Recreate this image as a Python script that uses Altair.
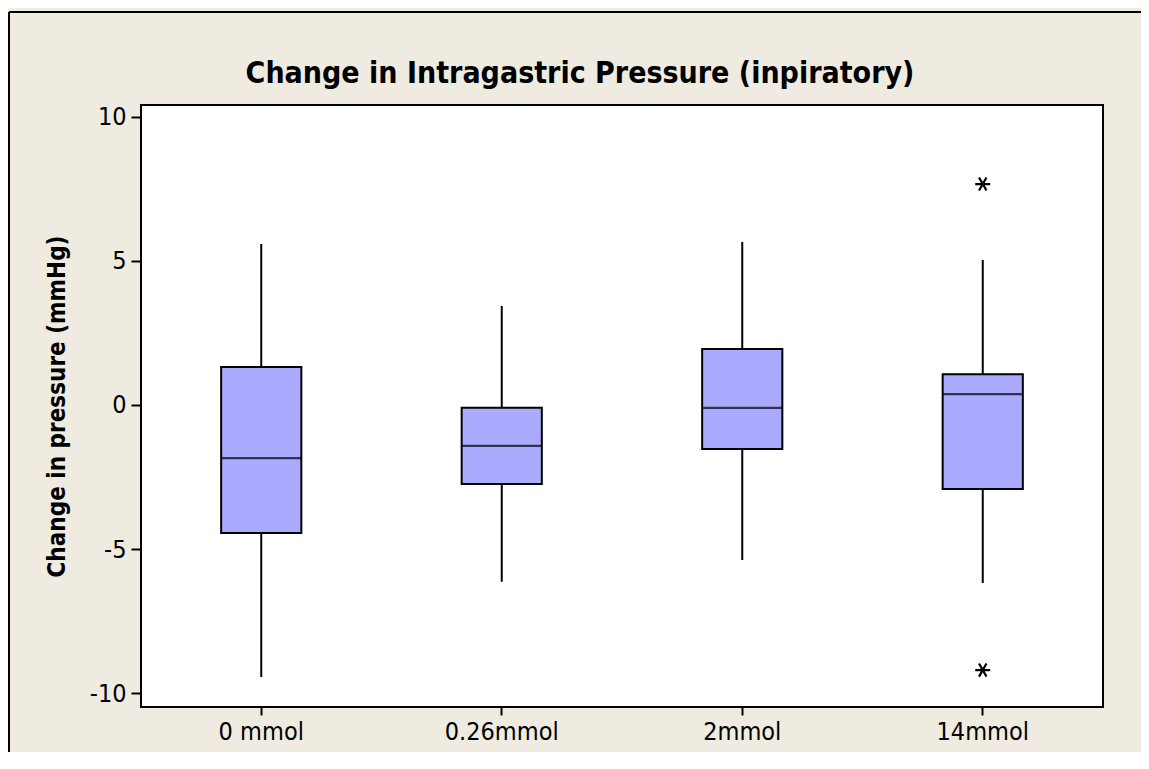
import altair as alt
import pandas as pd

# ---- data ----
groups = ["0 mmol", "0.26mmol", "2mmol", "14mmol"]
whisk_lo = [-9.43, -6.13, -5.37, -6.17]
q1 = [-4.44, -2.74, -1.53, -2.91]
median = [-1.84, -1.42, -0.10, 0.38]
q3 = [1.32, -0.10, 1.94, 1.07]
whisk_hi = [5.58, 3.43, 5.65, 5.03]
outlier_group = ["14mmol", "14mmol"]
outlier_val = [7.66, -9.19]
y_ticks = [-10, -5, 0, 5, 10]

stats = pd.DataFrame({"group": groups, "lo": whisk_lo, "q1": q1,
                      "med": median, "q3": q3, "hi": whisk_hi})
outl = pd.DataFrame({"group": outlier_group, "val": outlier_val})
one = pd.DataFrame({"k": [0]})

FONT = "DejaVu Sans Condensed, DejaVu Sans"
BEIGE = "#EFEBE1"
BOX = "#AAAAFF"

xscale = alt.Scale(domain=groups, paddingInner=2 / 3, paddingOuter=1 / 3)
yscale = alt.Scale(domain=[-10.47, 10.40], nice=False, zero=False)

x = alt.X("group:N", scale=xscale, sort=groups,
          axis=alt.Axis(title=None, labelAngle=0, tickSize=8, labelPadding=4))
y_axis = alt.Axis(values=y_ticks, title="Change in pressure (mmHg)",
                  labelExpr="'' + datum.value",
                  tickSize=10, labelPadding=5,
                  titleX=-84, titleY=301, titleAngle=270,
                  titleAlign="center", titleBaseline="middle")

whiskers = alt.Chart(stats).mark_rule(color="black", strokeWidth=2).encode(
    x=x,
    y=alt.Y("lo:Q", scale=yscale, axis=y_axis),
    y2="hi:Q",
)
boxes = alt.Chart(stats).mark_bar(fill=BOX, stroke="black", strokeWidth=2).encode(
    x=x, y=alt.Y("q1:Q", scale=yscale), y2="q3:Q"
)
medians = alt.Chart(stats).mark_tick(color="black", size=80, thickness=2.2).encode(
    x=x, y=alt.Y("med:Q", scale=yscale)
)
star = "M-1,0L1,0M-0.5,-0.87L0.5,0.87M0.5,-0.87L-0.5,0.87"
outliers = alt.Chart(outl).mark_point(shape=star, size=225, filled=False,
                                      stroke="black", strokeWidth=2.2, opacity=1).encode(
    x=x, y=alt.Y("val:Q", scale=yscale)
)

# outer figure frame (left and top edges)
frame_left = alt.Chart(one).mark_rule(color="black", strokeWidth=2).encode(
    x=alt.value(-132), y=alt.value(-93), y2=alt.value(647)
)
frame_top = alt.Chart(one).mark_rule(color="black", strokeWidth=2).encode(
    y=alt.value(-93), x=alt.value(-132), x2=alt.value(1000)
)

chart = alt.layer(frame_left, frame_top, whiskers, boxes, medians, outliers).properties(
    width=962, height=602,
    autosize=alt.AutoSizeParams(type="none"),
    padding={"left": 133, "top": 97, "right": 38, "bottom": 45},
    background=BEIGE,
    title=alt.TitleParams("Change in Intragastric Pressure (inpiratory)",
                          font=FONT, fontSize=30, fontWeight="bold", color="black",
                          anchor="middle", dx=-42, dy=102, offset=0, baseline="alphabetic"),
).configure_view(
    fill="white", stroke="black", strokeWidth=2
).configure_axis(
    domain=False, grid=False, tickColor="black", tickWidth=2,
    labelFont=FONT, labelFontSize=25, labelColor="black",
    titleFont=FONT, titleFontSize=24, titleFontWeight="bold", titleColor="black",
)

chart.save("out.html", embed_options={"renderer": "svg", "actions": False})
